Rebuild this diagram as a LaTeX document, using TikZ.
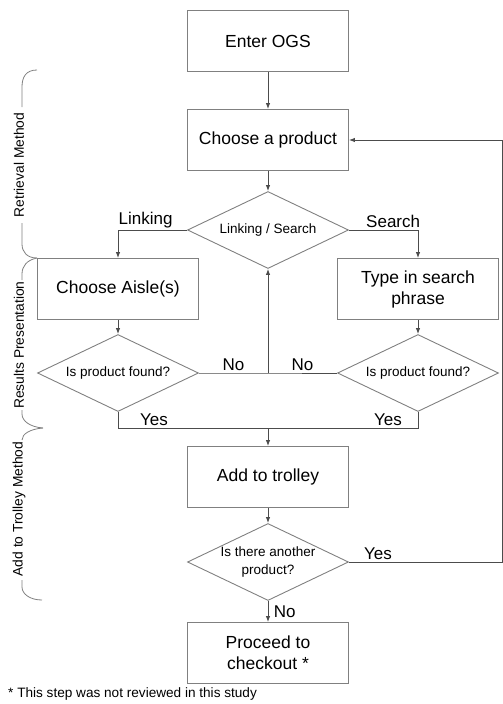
\documentclass[tikz,border=0pt]{standalone}
\usepackage{fontspec}
\setmainfont{Liberation Sans}
\usetikzlibrary{arrows.meta, shapes.geometric}

\definecolor{vora}{gray}{0.5}
\definecolor{fletxa}{gray}{0.3}
\definecolor{clau}{gray}{0.5}

\tikzset{
	caixa/.style = {draw = vora, line width = 0.9pt, minimum width = 161pt, minimum height = 61pt, inner sep = 0pt, align = center, font = \fontsize{17.5}{21}\selectfont},
	rombe/.style = {diamond, aspect = 2.09, draw = vora, line width = 0.9pt, minimum width = 161pt, minimum height = 77pt, inner sep = 0pt, align = center, font = \fontsize{13.5}{18}\selectfont},
	linia/.style = {draw = fletxa, line width = 0.9pt},
	fl/.style = {linia, -{Latex[length = 6pt, width = 4.5pt]}},
	etiq/.style = {font = \fontsize{17}{20}\selectfont, inner sep = 1.5pt},
	clauline/.style = {draw = clau, line width = 0.8pt},
	claulabel/.style = {rotate = 90, font = \fontsize{13.8}{16}\selectfont, inner sep = 0pt}
}

\begin{document}
\begin{tikzpicture}[x = 1pt, y = -1pt]
	\useasboundingbox (0,0) rectangle (503,704);
	% caixes i rombes
	\node[caixa] (enter) at (268,41) {Enter OGS};
	\node[caixa] (choose) at (268,140) {Choose a product};
	\node[rombe] (linksearch) at (268,230) {Linking / Search};
	\node[caixa] (aisle) at (118,289) {Choose Aisle(s)};
	\node[caixa] (typein) at (418,289) {Type in search\\phrase};
	\node[rombe] (foundL) at (118,373) {Is product found?};
	\node[rombe] (foundR) at (418,373) {Is product found?};
	\node[caixa] (trolley) at (268,477) {Add to trolley};
	\node[rombe] (another) at (268,562) {Is there another\\product?};
	\node[caixa] (checkout) at (268,653) {Proceed to\\checkout *};
	% punts d'unio
	\coordinate (nojoin) at (linksearch.south |- foundL.east);
	\coordinate (yesjoin) at (268,428);
	\coordinate (volta) at (502,562);
	% fletxes
	\draw[fl] (enter) -- (choose);
	\draw[fl] (choose) -- (linksearch);
	\draw[fl] (linksearch.west) -| node[etiq, pos = 0.3, above] {Linking} (aisle.north);
	\draw[fl] (linksearch.east) -| node[etiq, pos = 0.32, above] {Search} (typein.north);
	\draw[fl] (aisle) -- (foundL);
	\draw[fl] (typein) -- (foundR);
	% no
	\draw[linia] (foundL.east) -- node[etiq, above] {No} (nojoin) -- node[etiq, above] {No} (foundR.west);
	\draw[fl] (nojoin) -- (linksearch.south);
	% yes
	\draw[linia] (foundL.south) |- node[etiq, pos = 0.62, above] {Yes} (yesjoin);
	\draw[linia] (foundR.south) |- node[etiq, pos = 0.6, above] {Yes} (yesjoin);
	\draw[fl] (yesjoin) -- (trolley);
	\draw[fl] (trolley) -- (another);
	\draw[fl] (another) -- node[etiq, right, xshift = 4pt] {No} (checkout);
	\draw[fl] (another.east) -- node[etiq, pos = 0.19, above] {Yes} (volta) |- (choose.east);
	% claus
	\draw[clauline] (37,70) .. controls (26,70) and (22,77) .. (22,87) -- (22,107);
	\node[claulabel] (retrieval) at (19,165) {Retrieval Method};
	\draw[clauline] (22,223) -- (22,244) .. controls (22,252) and (27,258) .. (37,258);
	\draw[clauline] (37,258) .. controls (27,260) and (22,266) .. (22,274) -- (22,280);
	\node[claulabel] (results) at (19,345) {Results Presentation};
	\draw[clauline] (22,410) -- (22,414) .. controls (22,421) and (30,427) .. (43,428);
	\draw[clauline] (43,428) .. controls (30,429) and (22,434) .. (22,440);
	\node[claulabel] (addmethod) at (19,509) {Add to Trolley Method};
	\draw[clauline] (22,580) -- (22,587) .. controls (22,594) and (30,600) .. (42,600);
	% nota
	\node[anchor = west, font = \fontsize{13.6}{15}\selectfont, inner sep = 0pt] (nota) at (8,694) {* This step was not reviewed in this study};
\end{tikzpicture}
\end{document}
